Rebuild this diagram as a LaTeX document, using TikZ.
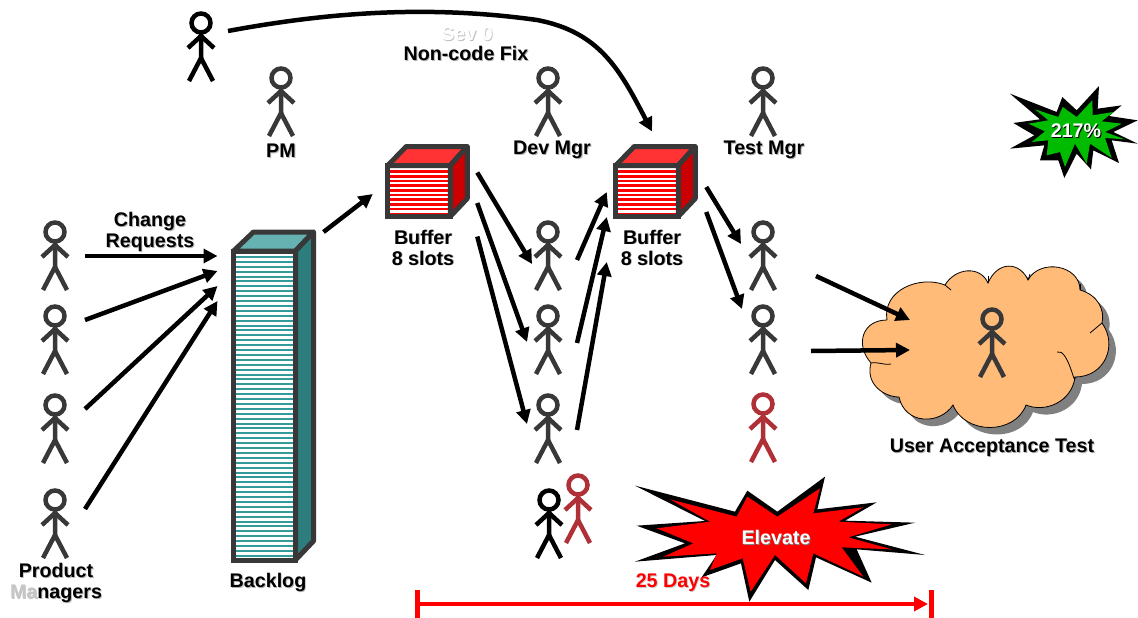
\documentclass[tikz,border=0pt]{standalone}
\usepackage{fontspec}
\setmainfont{Liberation Sans}
\usetikzlibrary{arrows.meta}
\definecolor{figdark}{HTML}{383838}
\definecolor{figred}{HTML}{B03038}
\definecolor{cloudfill}{HTML}{FFBB77}
\definecolor{tealtop}{HTML}{66B2B2}
\definecolor{tealside}{HTML}{2E7D7D}
\definecolor{tealline}{HTML}{339999}
\definecolor{burstgreen}{HTML}{00BB00}
\newcommand\shad[2][gray!60]{\leavevmode\rlap{\kern.9pt\raisebox{-.9pt}{\textcolor{#1}{#2}}}#2}
\tikzset{>={Triangle[length=14pt,width=14pt]}}
\tikzset{
  flow/.style={->, line width=4.5pt, black},
  lbl/.style={font=\fontsize{19.7}{21}\selectfont\bfseries, align=center, inner sep=0pt, yshift=-2pt},
  person/.style={minimum width=36pt, minimum height=84pt, inner sep=0pt, path picture={
    \begin{scope}[shift={(path picture bounding box.center)}, draw=#1, line width=4.5pt]
    \draw (0,-26) circle (9.5);
    \draw (0,-16) -- (0,9) -- (-12,32);
    \draw (0,9) -- (12,32);
    \draw (-13,-1) -- (0,-13) -- (13,-1);
    \end{scope}}},
  person/.default=figdark,
  stripebox/.style args={#1 and #2}{draw=figdark, fill=white, line width=5pt, inner sep=0pt, outer sep=0pt, minimum width=#1, minimum height=#2},
  stripes/.style args={#1 step #2 wide #3}{path picture={
    \foreach \k in {0,...,70}
    \fill[#1] ([yshift=-\k*#2 pt]path picture bounding box.north west) rectangle ++(100,#3);}},
  side/.style={draw=figdark, line width=5pt, line join=round}
}
\begin{document}
\begin{tikzpicture}[x=1pt,y=-1pt]
\useasboundingbox (0,0) rectangle (1138,618);

% people
\foreach \nm/\x/\y in {pma/55/258, pmb/55/342, pmc/55/431, pmd/55/526,
  pm/281/104, dm/548/104, tm/763/104, deva/548/258, devb/548/342, devc/548/431,
  tsa/763/258, tsb/763/342}
\node[person] (\nm) at (\x,\y) {};
\node[person=black] (sev) at (201,49) {};
\node[person=figred] (tsc) at (763,430) {};
\node[person=black] (devd) at (549,526) {};
\node[person=figred] (deve) at (578,511) {};

% backlog column
\node[stripebox={62pt and 309pt}, stripes={tealline step 4.9 wide 2}] (backlog) at (264.5,405.5) {};
\draw[side, fill=tealtop] (backlog.north west) -- ++(20,-19) -- ++(60,0) -- (backlog.north east) -- cycle;
\draw[side, fill=tealside] (backlog.north east) -- ++(18,-19) -- ++(0,309) -- (backlog.south east) -- cycle;

% buffers
\foreach \nm/\x in {bufa/419, bufb/647} {
\node[stripebox={62.5pt and 51pt}, stripes={red step 4.7 wide 2.6}] (\nm) at (\x,191) {};
\draw[side, fill=red!80!white] (\nm.north west) -- ++(18.5,-19) -- ++(61,0) -- (\nm.north east) -- cycle;
\draw[side, fill=red!80!black] (\nm.north east) -- ++(17,-19) -- ++(0,52) -- (\nm.south east) -- cycle;
}

% cloud
\def\cloudpath{(887,320) .. controls (882,290) and (920,275) .. (945,285)
  .. controls (955,268) and (980,265) .. (988,283)
  .. controls (998,260) and (1020,262) .. (1028,280)
  .. controls (1040,258) and (1080,265) .. (1080,290)
  .. controls (1098,295) and (1105,310) .. (1102,323)
  .. controls (1118,345) and (1105,377) .. (1075,377)
  .. controls (1072,402) and (1045,413) .. (1026,405)
  .. controls (1015,435) and (965,435) .. (953,405)
  .. controls (940,425) and (905,425) .. (899,397)
  .. controls (885,397) and (865,385) .. (871,363)
  .. controls (855,345) and (862,320) .. (887,320)}
\fill[gray, shift={(7,7)}] \cloudpath;
\filldraw[fill=cloudfill, draw=black, line width=0.8pt] \cloudpath;
\draw[line width=0.8pt] (871,363) to[out=10,in=-170] (891,364);
\draw[line width=0.8pt] (1057,352) to[out=20,in=-90] (1075,377);
\draw[line width=0.8pt] (1102,323) -- (1090,333);
\draw[line width=0.8pt] (945,285) -- (951,290);
\draw[line width=0.8pt] (988,283) -- (988,276);
\draw[line width=0.8pt] (1028,280) -- (1030,274);
\draw[line width=0.8pt] (1080,290) -- (1080,284);
\node[person] (uat) at (992,345) {};
\coordinate (uatc) at (992,347);

% timeline
\coordinate (tla) at (417,604);
\coordinate (tlb) at (931,604);
\draw[->, red, line width=4.5pt] (tla) -- ([xshift=-3pt]tlb);
\draw[red, line width=5pt] ([yshift=-14.5pt]tla) -- ([yshift=14.5pt]tla);
\draw[red, line width=5pt] ([yshift=-14.5pt]tlb) -- ([yshift=14.5pt]tlb);

% bursts
\begin{scope}[shift={(520,460)},scale=1/3]
\fill[black] (345,77) -- (645,155) -- (682,92) -- (772,155) -- (915,50) -- (892,148) -- (1070,127) -- (975,182) -- (1185,188) -- (1005,230) -- (1215,285) -- (1010,268) -- (1055,368) -- (888,292) -- (865,390) -- (765,300) -- (688,425) -- (663,310) -- (545,352) -- (590,285) -- (345,305) -- (495,250) -- (350,197) -- (555,183) -- cycle;
\fill[red] (450,118) -- (650,170) -- (682,110) -- (772,170) -- (900,85) -- (880,160) -- (1030,142) -- (955,185) -- (1115,193) -- (985,232) -- (1115,268) -- (965,262) -- (1030,350) -- (880,280) -- (858,370) -- (765,285) -- (692,395) -- (668,295) -- (570,330) -- (590,280) -- (430,290) -- (520,250) -- (410,205) -- (570,185) -- cycle;
\end{scope}
\begin{scope}[shift={(1005,82)},scale=1/3]
\fill[black] (15,35) -- (155,90) -- (172,45) -- (215,85) -- (282,12) -- (278,80) -- (350,70) -- (312,102) -- (398,115) -- (325,150) -- (398,185) -- (320,175) -- (342,243) -- (265,205) -- (258,262) -- (215,215) -- (178,288) -- (160,235) -- (105,235) -- (118,190) -- (15,200) -- (88,160) -- (25,123) -- (105,112) -- cycle;
\fill[burstgreen] (90,82) -- (160,105) -- (173,75) -- (215,105) -- (262,55) -- (263,100) -- (325,90) -- (290,118) -- (350,125) -- (300,150) -- (360,172) -- (300,168) -- (320,228) -- (255,185) -- (245,245) -- (210,185) -- (180,255) -- (165,210) -- (125,220) -- (130,175) -- (80,180) -- (120,148) -- (70,125) -- (130,115) -- cycle;
\end{scope}

% arrows
\draw[flow] ([shift={(30,-2)}]pma.center) -- ([shift={(-16,5)}]backlog.north west);
\draw[flow] ([shift={(30,-22)}]pmb.center) -- ([shift={(-16,20)}]backlog.north west);
\draw[flow] ([shift={(30,-22)}]pmc.center) -- ([shift={(-16,35)}]backlog.north west);
\draw[flow] ([shift={(30,-17)}]pmd.center) -- ([shift={(-16,50)}]backlog.north west);
\draw[flow] ([shift={(28,-19)}]backlog.north east) -- ([shift={(-15,3)}]bufa.west);
\draw[flow] ([shift={(27,7)}]bufa.north east) -- ([shift={(-16,6)}]deva.center);
\draw[flow] ([shift={(27,12)}]bufa.east) -- ([shift={(-21,0)}]devb.center);
\draw[flow] ([shift={(27,20)}]bufa.south east) -- ([shift={(-21,-7)}]devc.center);
\draw[flow] ([shift={(29,2)}]deva.center) -- ([shift={(-9,1)}]bufb.west);
\draw[flow] ([shift={(29,1)}]devb.center) -- ([shift={(-9,26)}]bufb.west);
\draw[flow] ([shift={(29,-1)}]devc.center) -- ([shift={(-9,71)}]bufb.west);
\draw[flow] ([shift={(28,-4)}]bufb.east) -- ([shift={(-22,-14)}]tsa.center);
\draw[flow] ([shift={(28,21)}]bufb.east) -- ([shift={(-21,-33)}]tsb.center);
\draw[flow] ([shift={(53,18)}]tsa.center) -- ([shift={(-82,-27)}]uatc);
\draw[flow] ([shift={(48,9)}]tsb.center) -- ([shift={(-82,3)}]uatc);
\draw[flow] ([shift={(27,-18)}]sev.center) .. controls (330,12) and (430,5) .. (537,20) .. controls (600,32) and (620,70) .. ([shift={(5,-34)}]bufb.north);

% labels
\node[lbl] (chg) at (150,230) {\shad{Change}\\\shad{Requests}};
\node[lbl] (pmname) at (281,149) {\shad{PM}};
\node[lbl] (dmname) at (552,148) {\shad{Dev Mgr}};
\node[lbl] (tmname) at (764,148) {\shad{Test Mgr}};
\node[lbl] (bufaname) at (423,246) {\shad{Buffer}\\\shad{8 slots}};
\node[lbl] (bufbname) at (652,246) {\shad{Buffer}\\\shad{8 slots}};
\node[lbl] (logname) at (268,581) {\shad{Backlog}};
\node[lbl] (pmsname) at (56,581) {\shad{Product}\\\shad{\textcolor{gray!45}{Ma}nagers}};
\node[lbl] (uatname) at (992,446) {\shad{User Acceptance Test}};
\node[lbl, white] (sevname) at (467,32) {\shad[gray!50]{Sev 0}};
\node[lbl] (fixname) at (466,52) {\shad{Non-code Fix}};
\node[lbl, white] (elevname) at (776,536) {\shad[gray]{Elevate}};
\node[lbl, red] (daysname) at (673,581) {\shad[gray!40]{25 Days}};
\node[lbl, white] (pctname) at (1076,129) {\shad[black]{217\%}};
\end{tikzpicture}
\end{document}
